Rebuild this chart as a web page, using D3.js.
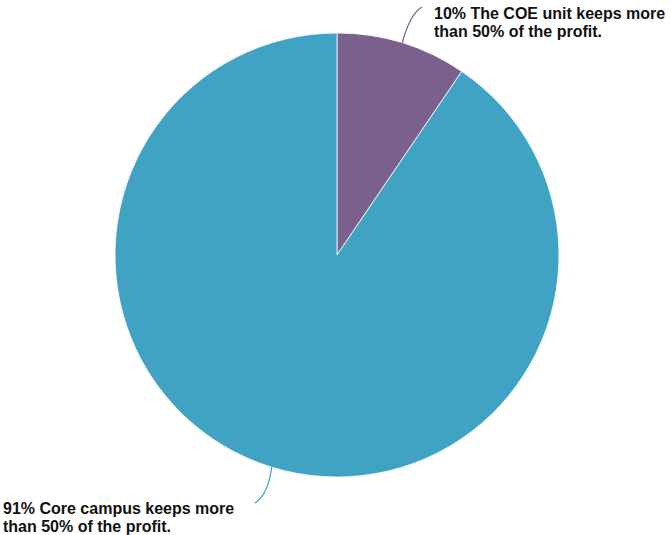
<!DOCTYPE html>
<html>
<head>
<meta charset="utf-8">
<script src="https://cdn.jsdelivr.net/npm/d3@7"></script>
<style>
  body { margin: 0; background: #fff; }
  text { font-family: "Liberation Sans", Arial, Helvetica, sans-serif; font-weight: bold; font-size: 16px; fill: #111; }
</style>
</head>
<body>
<div id="chart"></div>
<script>
// Chart data
var categories = ["COE unit", "Core campus"];
var shares = [9.5, 90.5];
var labelLines = [
    ["10% The COE unit keeps more", "than 50% of the profit."],
    ["91% Core campus keeps more", "than 50% of the profit."]
];
var colors = ["#7b5f8c", "#40a3c3"];

var svgWidth = 671;
var svgHeight = 535;
var radius = 222;
var cx = 337, cy = 255;

var svg = d3.select("#chart")
    .append("svg")
    .attr("width", svgWidth)
    .attr("height", svgHeight);

var chartGroup = svg.append("g")
    .attr("transform", `translate(${cx}, ${cy})`);

var pie = d3.pie().sort(null).value(d => d);
var arcs = pie(shares);

var arc = d3.arc().innerRadius(0).outerRadius(radius);

chartGroup.selectAll("path.slice")
    .data(arcs)
    .enter()
    .append("path")
    .attr("class", "slice")
    .attr("d", arc)
    .attr("fill", (d, i) => colors[i])
    .attr("stroke", "#fff")
    .attr("stroke-width", 0.8);

// Leader lines: start at the slice's mid angle on the rim, curve out to the label
var labelPos = [
    { end: [85, -248], ctrl: [73, -241], text: [97, -236.5] },
    { end: [-82, 248], ctrl: [-69, 240], text: [-334, 258.5] }
];

arcs.forEach(function(d, i) {
    var mid = (d.startAngle + d.endAngle) / 2;
    var sx = radius * Math.sin(mid);
    var sy = -radius * Math.cos(mid);
    var p = labelPos[i];
    var path = d3.path();
    path.moveTo(sx, sy);
    path.quadraticCurveTo(p.ctrl[0], p.ctrl[1], p.end[0], p.end[1]);
    chartGroup.append("path")
        .attr("d", path.toString())
        .attr("fill", "none")
        .attr("stroke", colors[i])
        .attr("stroke-width", 1.2);

    var t = chartGroup.append("text")
        .attr("x", p.text[0])
        .attr("y", p.text[1]);
    labelLines[i].forEach(function(line, j) {
        t.append("tspan")
            .attr("x", p.text[0])
            .attr("dy", j === 0 ? 0 : 18)
            .text(line);
    });
});
</script>
</body>
</html>
